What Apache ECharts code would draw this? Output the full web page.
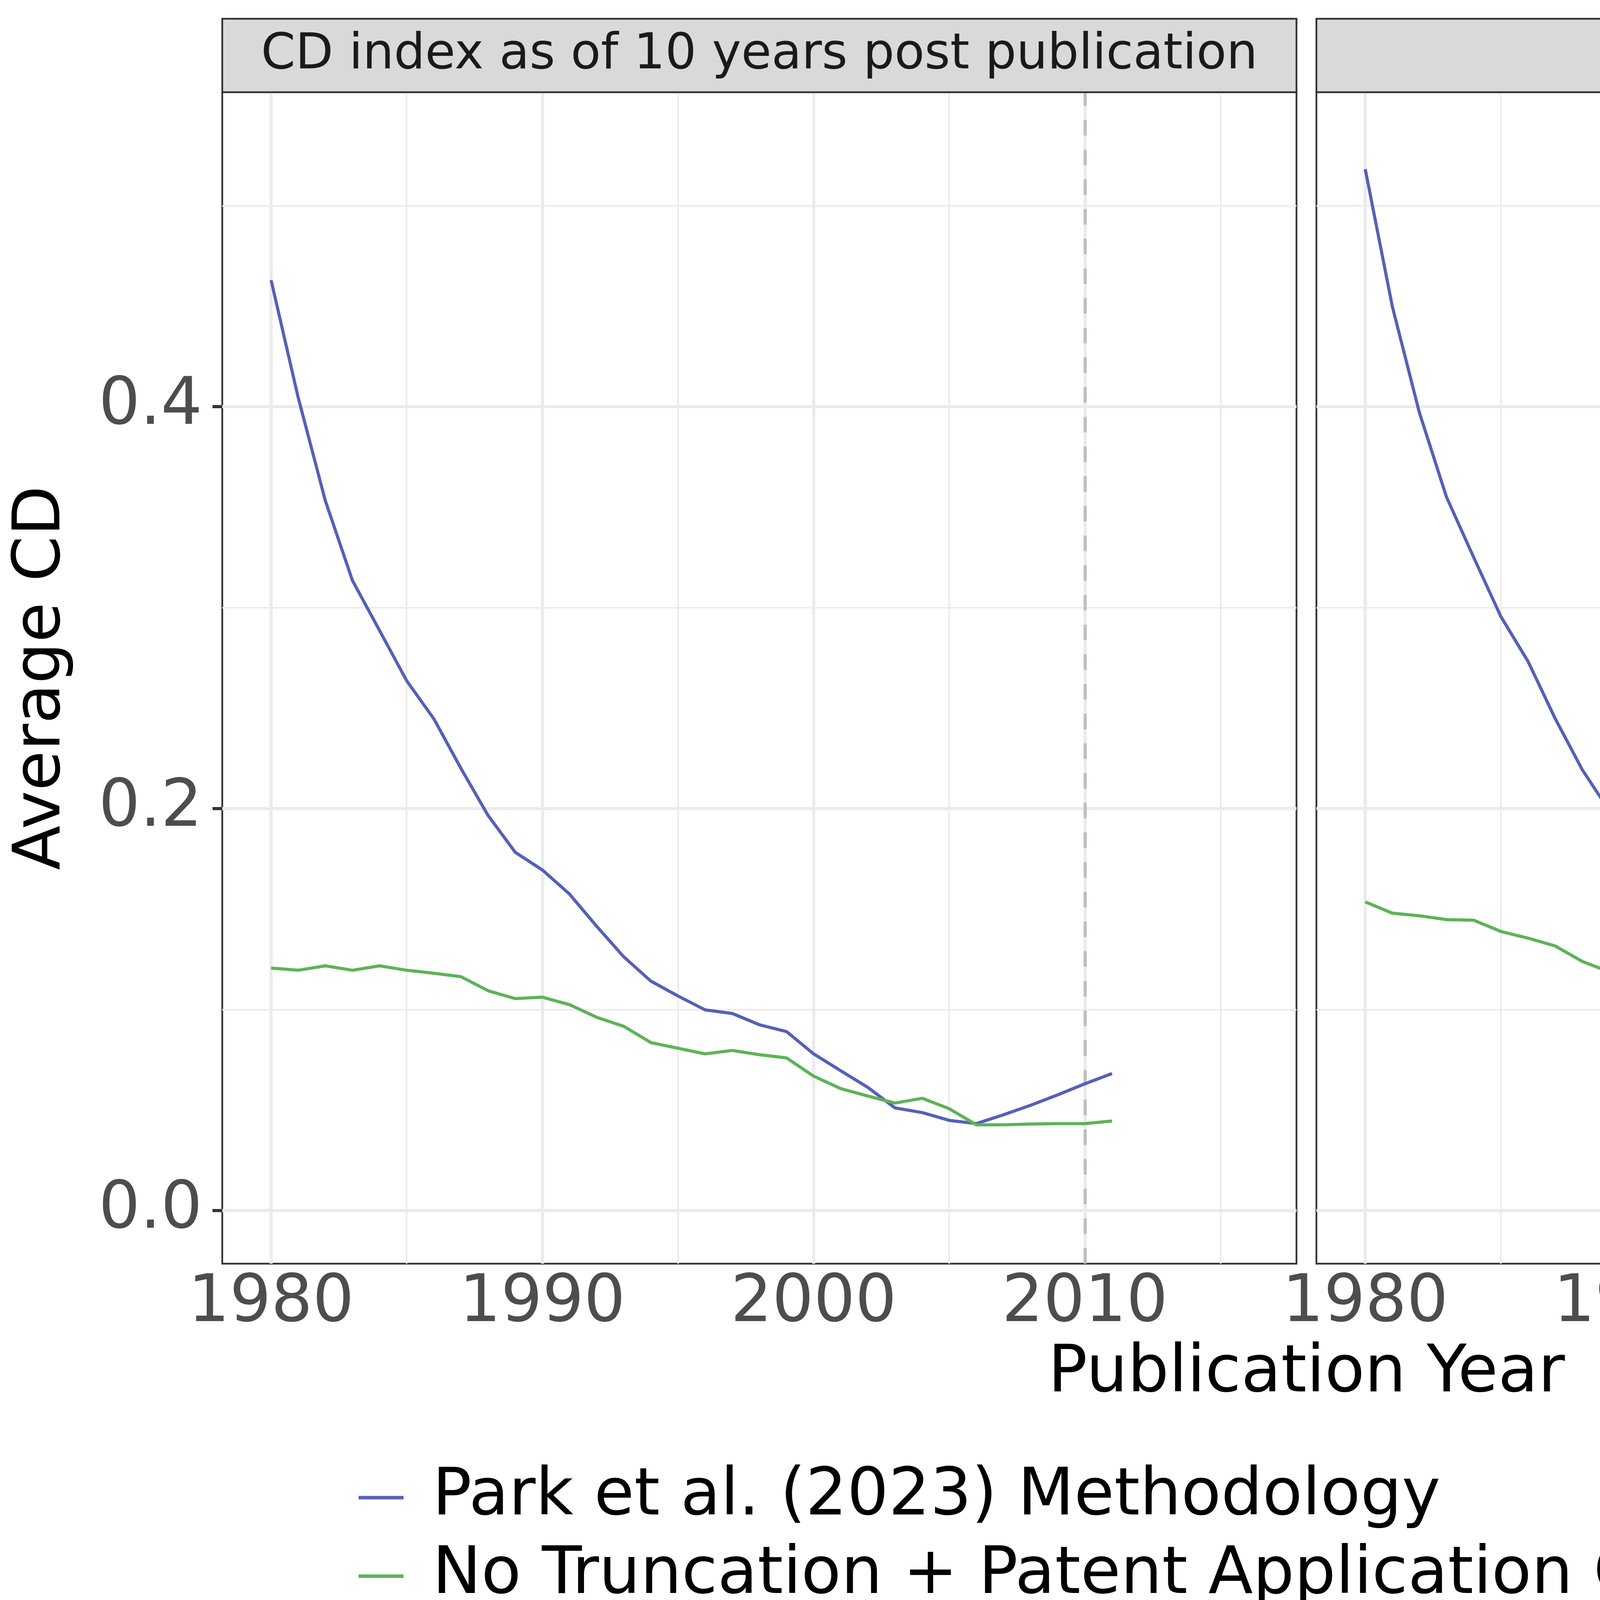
<!DOCTYPE html>
<html>
<head>
<meta charset="utf-8">
<script src="https://cdn.jsdelivr.net/npm/echarts@6/dist/echarts.min.js"></script>
<style>html,body{margin:0;padding:0;background:#ffffff;overflow:hidden}#chart{width:6600px;height:4200px}</style>
</head>
<body>
<div id="chart"></div>
<script>
// ---------------- data ----------------
const panelTitles = ['CD index as of 10 years post publication', 'CD index as of 2021'];
const seriesNames = ['Park et al. (2023) Methodology', 'No Truncation + Patent Application Citation Methodology'];

const yearsTenYear = [1980,1981,1982,1983,1984,1985,1986,1987,1988,1989,1990,1991,1992,1993,1994,1995,1996,1997,1998,1999,2000,2001,2002,2003,2004,2005,2006,2007,2008,2009,2010,2011];
const parkTenYear = [0.463,0.4045,0.3532,0.3135,0.2886,0.2636,0.2447,0.2200,0.1966,0.1783,0.1695,0.1575,0.1415,0.1263,0.1142,0.1068,0.0999,0.0981,0.0925,0.0891,0.0780,0.0696,0.0613,0.0511,0.0488,0.0449,0.0433,0.0477,0.0524,0.0576,0.0631,0.0682];
const noTruncTenYear = [0.1207,0.1196,0.1218,0.1196,0.1218,0.1196,0.1181,0.1164,0.1094,0.1055,0.1062,0.1025,0.0962,0.0917,0.0836,0.0808,0.0780,0.0797,0.0776,0.0760,0.0669,0.0607,0.0570,0.0535,0.0559,0.0507,0.0427,0.0427,0.0431,0.0433,0.0433,0.0446];

const years2021 = [1980,1981,1982,1983,1984,1985,1986,1987,1988,1989,1990,1991,1992,1993,1994,1995,1996,1997,1998,1999,2000,2001,2002,2003,2004,2005,2006,2007,2008,2009,2010,2011,2012,2013,2014,2015,2016];
const park2021 = [0.5182,0.4498,0.3969,0.3549,0.3250,0.2956,0.2733,0.2449,0.2194,0.1989,0.1874,0.1747,0.1578,0.1430,0.1291,0.1198,0.1137,0.1114,0.1058,0.1021,0.0901,0.0808,0.0711,0.0585,0.0539,0.0492,0.0474,0.0520,0.0557,0.0613,0.0650,0.0691,0.0795,0.0849,0.0873,0.0886,0.0897];
const noTrunc2021 = [0.1536,0.1480,0.1467,0.1448,0.1445,0.1389,0.1356,0.1317,0.1240,0.1188,0.1170,0.1140,0.1086,0.1025,0.0947,0.0901,0.0886,0.0906,0.0884,0.0869,0.0776,0.0708,0.0670,0.0631,0.0643,0.0576,0.0483,0.0474,0.0462,0.0453,0.0442,0.0446,0.0475,0.0462,0.0435,0.0403,0.0366];

const xMajorTicks = [1980, 1990, 2000, 2010];
const xMinorTicks = [1985, 1995, 2005, 2015];
const yMajorTicks = [0, 0.2, 0.4];
const yMinorTicks = [0.1, 0.3, 0.5];
const percentileTicks = [50, 60, 70];
const referenceYear = [2010];

// axis extents (ggplot expanded ranges)
const xMin = 1978.2, xMax = 2017.8;
const yMin = -0.0264, yMax = 0.5565;
const toPercentile = v => 50 + 50 * v;

// ---------------- styles ----------------
const FONT = 'DejaVu Sans';
const BLUE = '#5461b7';
const GREEN = '#5db357';
const GRID_COL = '#ebebeb';
const BORDER = '#333333';

const panelLeft = [569, 3370];
const panelTop = 236, panelHeight = 2999, panelWidth = 2750;
const stripTop = 48, stripHeight = 188;

const zip = (xs, ys) => xs.map((x, i) => [x, ys[i]]);

function gridMarkLine() {
  const d = [];
  yMinorTicks.forEach(v => d.push({ yAxis: v, lineStyle: { color: GRID_COL, width: 4, type: 'solid' } }));
  xMinorTicks.forEach(v => d.push({ xAxis: v, lineStyle: { color: GRID_COL, width: 4, type: 'solid' } }));
  yMajorTicks.forEach(v => d.push({ yAxis: v, lineStyle: { color: GRID_COL, width: 8, type: 'solid' } }));
  xMajorTicks.forEach(v => d.push({ xAxis: v, lineStyle: { color: GRID_COL, width: 8, type: 'solid' } }));
  referenceYear.forEach(v => d.push({ xAxis: v, lineStyle: { color: '#bebebe', width: 8, type: [40, 36] } }));
  return {
    silent: true, symbol: ['none', 'none'], z: 1, animation: false,
    label: { show: false }, emphasis: { disabled: true },
    data: d
  };
}

const tickLabelStyle = { fontFamily: FONT, fontSize: 167, lineHeight: 167, color: '#4d4d4d' };
const nameStyle = { fontFamily: FONT, fontSize: 167, lineHeight: 167, color: '#000000' };

const grids = panelLeft.map(l => ({
  left: l, top: panelTop, width: panelWidth, height: panelHeight,
  show: true, borderColor: BORDER, borderWidth: 4.5, backgroundColor: 'transparent',
  containLabel: false, outerBoundsMode: 'none'
}));

const xAxes = [0, 1].map(i => ({
  type: 'value', gridIndex: i, min: xMin, max: xMax, position: 'bottom',
  axisLine: { show: false },
  axisTick: { show: true, length: 25, inside: false, customValues: xMajorTicks, lineStyle: { color: BORDER, width: 8 } },
  axisLabel: { show: true, margin: 20, customValues: xMajorTicks, formatter: v => String(v), ...tickLabelStyle },
  splitLine: { show: false }, minorSplitLine: { show: false }
}));

const yAxes = [
  {
    type: 'value', gridIndex: 0, min: yMin, max: yMax, position: 'left',
    name: 'Average CD', nameLocation: 'middle', nameGap: 377, nameRotate: 90, nameMoveOverlap: false,
    nameTextStyle: nameStyle,
    axisLine: { show: false },
    axisTick: { show: true, length: 25, customValues: yMajorTicks, lineStyle: { color: BORDER, width: 8 } },
    axisLabel: { show: true, margin: 51, customValues: yMajorTicks, formatter: v => Number(v).toFixed(1), ...tickLabelStyle },
    splitLine: { show: false }
  },
  {
    type: 'value', gridIndex: 1, min: yMin, max: yMax, position: 'left',
    axisLine: { show: false }, axisTick: { show: false }, axisLabel: { show: false }, splitLine: { show: false }
  },
  {
    type: 'value', gridIndex: 1, min: toPercentile(yMin), max: toPercentile(yMax), position: 'right',
    name: 'Percentile', nameLocation: 'middle', nameGap: 257, nameRotate: -90, nameMoveOverlap: false,
    nameTextStyle: nameStyle,
    axisLine: { show: false },
    axisTick: { show: true, length: 25, customValues: percentileTicks, lineStyle: { color: BORDER, width: 8 } },
    axisLabel: { show: true, margin: 56, customValues: percentileTicks, formatter: v => String(Math.round(v)), ...tickLabelStyle },
    splitLine: { show: false }
  }
];

function lineSeries(name, data, gi, color) {
  return {
    type: 'line', name, data, xAxisIndex: gi, yAxisIndex: gi,
    showSymbol: false, symbol: 'none', z: 3, clip: true,
    lineStyle: { color, width: 8 }, itemStyle: { color },
    emphasis: { disabled: true }, animation: false
  };
}

const series = [
  { type: 'line', name: 'grid0', data: [], xAxisIndex: 0, yAxisIndex: 0, markLine: gridMarkLine(), z: 1, animation: false },
  { type: 'line', name: 'grid1', data: [], xAxisIndex: 1, yAxisIndex: 1, markLine: gridMarkLine(), z: 1, animation: false },
  lineSeries(seriesNames[0], zip(yearsTenYear, parkTenYear), 0, BLUE),
  lineSeries(seriesNames[1], zip(yearsTenYear, noTruncTenYear), 0, GREEN),
  lineSeries(seriesNames[0], zip(years2021, park2021), 1, BLUE),
  lineSeries(seriesNames[1], zip(years2021, noTrunc2021), 1, GREEN)
];

const graphic = [];
panelLeft.forEach((l, i) => {
  graphic.push({
    type: 'rect', shape: { x: l, y: stripTop, width: panelWidth, height: stripHeight },
    style: { fill: '#d9d9d9', stroke: BORDER, lineWidth: 4.5 }, silent: true, z: 10
  });
  graphic.push({
    type: 'text', x: l + panelWidth / 2, y: stripTop + stripHeight / 2,
    style: { text: panelTitles[i], fill: '#1a1a1a', font: '126px "DejaVu Sans"', textAlign: 'center', textVerticalAlign: 'middle' },
    silent: true, z: 11
  });
});
graphic.push({
  type: 'text', x: (panelLeft[0] + panelLeft[1] + panelWidth) / 2, y: 3519,
  style: { text: 'Publication Year', fill: '#000000', font: '167px "DejaVu Sans"', textAlign: 'center', textVerticalAlign: 'middle' },
  silent: true
});

const option = {
  backgroundColor: '#ffffff',
  animation: false,
  textStyle: { fontFamily: FONT },
  grid: grids,
  xAxis: xAxes,
  yAxis: yAxes,
  legend: {
    data: seriesNames, orient: 'vertical', left: 913, top: 3729,
    icon: 'rect', itemWidth: 115, itemHeight: 9, itemGap: 1,
    selectedMode: false,
    textStyle: { fontFamily: FONT, fontSize: 167, lineHeight: 200, color: '#000000', padding: [0, 0, 0, 69] }
  },
  series,
  graphic
};

const chart = echarts.init(document.getElementById('chart'), null, { renderer: 'canvas', width: 6600, height: 4200, devicePixelRatio: 1 });
chart.setOption(option);
</script>
</body>
</html>
